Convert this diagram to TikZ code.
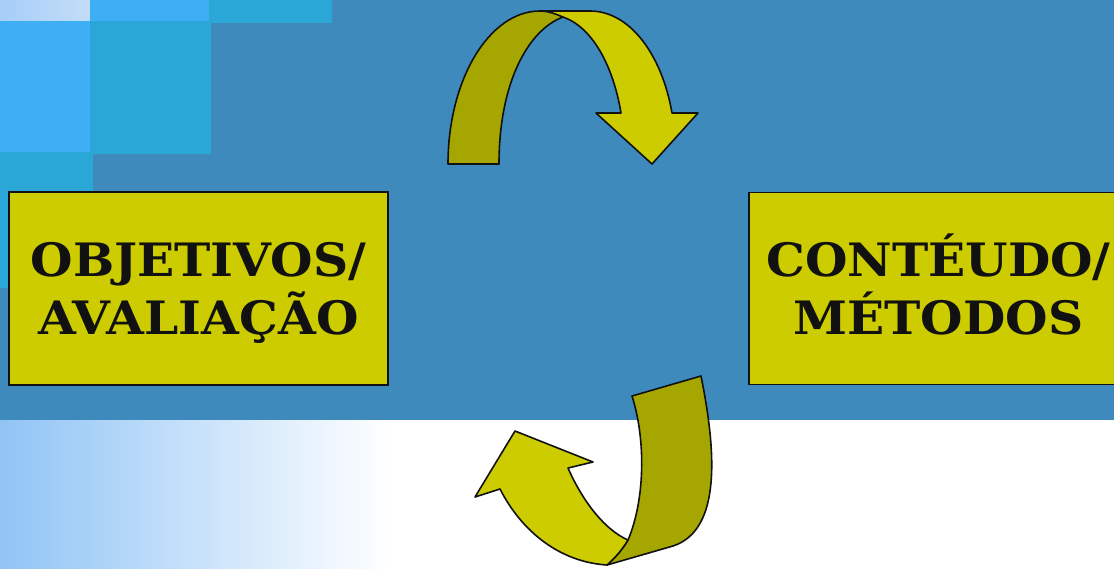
\documentclass[tikz,border=0pt]{standalone}
\usepackage{fontspec}
\newfontfamily\boxfont{DejaVu Serif Bold}[FakeStretch=1.06]
\definecolor{bgblue}{RGB}{62,138,189}
\definecolor{brightblue}{RGB}{62,174,245}
\definecolor{cyanblue}{RGB}{42,167,214}
\definecolor{paleA}{RGB}{166,206,248}
\definecolor{paleB}{RGB}{194,221,248}
\definecolor{gradL}{RGB}{144,196,245}
\definecolor{ylw}{RGB}{204,204,0}
\definecolor{dylw}{RGB}{166,166,0}
\definecolor{ink}{RGB}{17,17,17}
\newcommand{\eqph}{\vphantom{ÉÇ}}
\tikzset{
  labelbox/.style={draw=ink, line width=1.8pt, fill=ylw, inner sep=0pt, align=center,
    text=ink, font=\boxfont\fontsize{46}{58}\selectfont},
  ribbonfront/.style={fill=ylw, draw=ink, line width=1.6pt, line join=round},
  ribbonback/.style={fill=dylw, draw=ink, line width=1.6pt, line join=round}
}
\begin{document}
\begin{tikzpicture}[x=1pt,y=-1pt]
\useasboundingbox (0,0) rectangle (1114,568);
% background
\fill[bgblue] (0,0) rectangle (1114,420);
\fill[white] (0,420) rectangle (1114,568);
\shade[left color=gradL, right color=white] (0,420) rectangle (390,568);
% tiles
\shade[left color=paleA, right color=paleB] (0,0) rectangle (90,21);
\fill[brightblue] (90,0) rectangle (209,21);
\fill[cyanblue] (209,0) rectangle (332,23);
\fill[brightblue] (0,21) rectangle (90,152);
\fill[cyanblue] (90,21) rectangle (211,154);
\fill[cyanblue] (0,152) rectangle (93,288);
% boxes
\node[labelbox, minimum width=379pt, minimum height=193pt] (obj) at (198.5,288.5) {\eqph OBJETIVOS/\\\eqph AVALIAÇÃO};
\node[labelbox, minimum width=379pt, minimum height=192pt] (cont) at (938.5,288.5) {\eqph CONTÉUDO/\\\eqph MÉTODOS};
% top arrow
\path[ribbonback] (448,164) .. controls (448,80) and (489,11) .. (540,11)
  -- (548,11) .. controls (553,12) and (558,14) .. (563,17)
  .. controls (528,30) and (499,83) .. (499,164) -- cycle;
\path[ribbonfront] (540,11) -- (590,11) .. controls (630,11) and (662,55) .. (672,113)
  -- (698,113) -- (652,164) -- (596,113) -- (621,113)
  .. controls (613,65) and (592,27) .. (563,17)
  .. controls (556,14) and (548,11) .. (540,11) -- cycle;
% bottom arrow
\path[ribbonback] (632,396) -- (701,376) .. controls (716,450) and (722,530) .. (673,546)
  -- (607,565) .. controls (615,558) and (622,550) .. (628,540)
  .. controls (645,500) and (646,440) .. (632,396) -- cycle;
\path[ribbonfront] (607,565) .. controls (560,562) and (522,532) .. (500,489)
  -- (475,497) -- (515,431) -- (593,462) -- (568,468)
  .. controls (583,502) and (605,530) .. (628,540)
  .. controls (622,550) and (615,558) .. (607,565) -- cycle;
\end{tikzpicture}
\end{document}
